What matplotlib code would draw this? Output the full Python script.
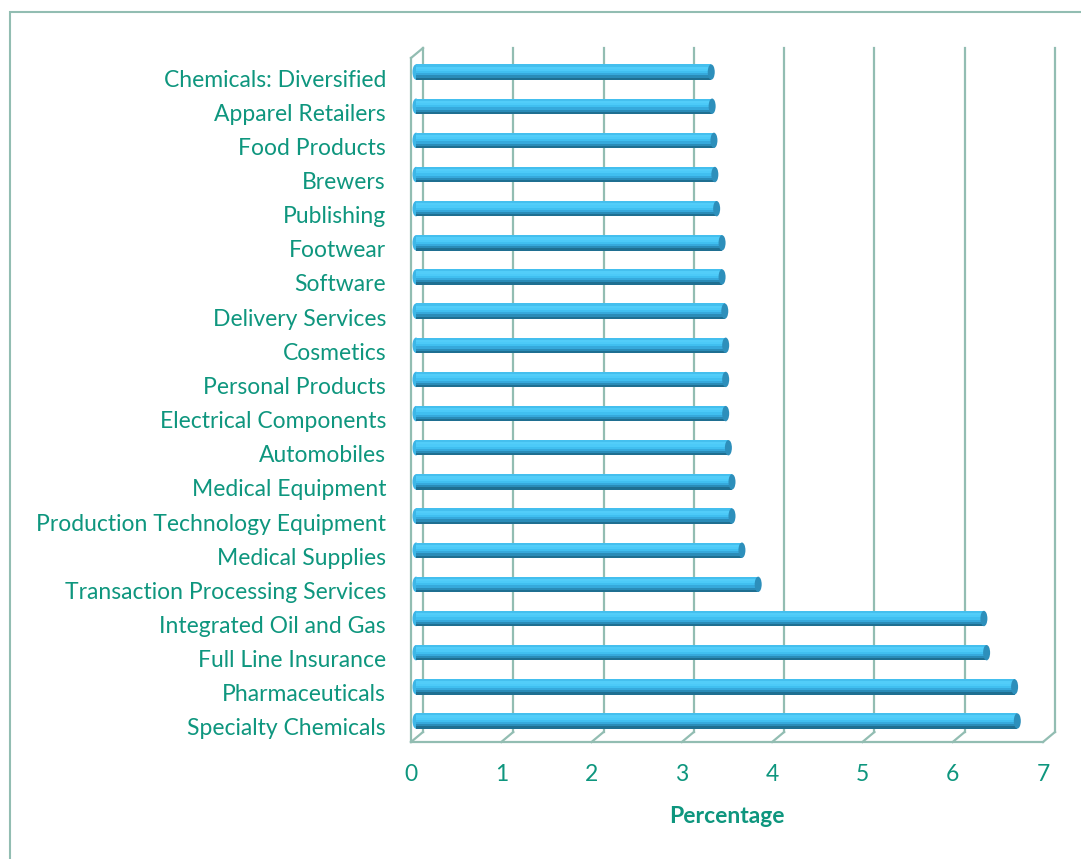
import matplotlib.pyplot as plt
import matplotlib.transforms as mtransforms
from matplotlib.patches import Ellipse, Rectangle

# --- Data (bottom to top) ---
sectors = [
    "Specialty Chemicals", "Pharmaceuticals", "Full Line Insurance",
    "Integrated Oil and Gas", "Transaction Processing Services", "Medical Supplies",
    "Production Technology Equipment", "Medical Equipment", "Automobiles",
    "Electrical Components", "Personal Products", "Cosmetics", "Delivery Services",
    "Software", "Footwear", "Publishing", "Brewers", "Food Products",
    "Apparel Retailers", "Chemicals: Diversified",
]
percentages = [
    6.66, 6.63, 6.32, 6.29, 3.79, 3.61, 3.50, 3.50, 3.46, 3.43,
    3.43, 3.43, 3.42, 3.39, 3.39, 3.33, 3.31, 3.30, 3.28, 3.27,
]
x_ticks = [0, 1, 2, 3, 4, 5, 6, 7]

TEXT = "#0e967e"
GRID = "#92bdb2"
FONT = "Lato"

W, H = 1081, 859
fig = plt.figure(figsize=(W / 100, H / 100), dpi=100)

# outer border (right and bottom run off the picture)
fig.add_artist(Rectangle((10 / W, -0.05), 1.2, 1 - 12 / H + 0.05,
                         transform=fig.transFigure, fill=False,
                         edgecolor=GRID, linewidth=1.5))

ax = fig.add_axes([411 / W, 1 - 742 / H, (1043 - 411) / W, (742 - 48) / H])
ax.set_xlim(0, 7)
ax.set_ylim(-0.44, 19.88)
for s in ax.spines.values():
    s.set_visible(False)

bar_tr = mtransforms.offset_copy(ax.transData, fig=fig, x=5, y=6, units="dots")
inv = ax.transData.inverted()


def shifted(x, y, dx, dy):
    # data point moved by (dx, dy) pixels, back in data units
    return inv.transform(ax.transData.transform((x, y)) + [dx, dy])


y0, y1 = ax.get_ylim()
line_kw = dict(color=GRID, lw=1.6, clip_on=False, zorder=1)
# back wall gridlines and floor slants
for k in x_ticks:
    fb = shifted(k, y0, 12, 10)
    tb = shifted(k, y1, 12, 0)
    ax.plot([fb[0], tb[0]], [fb[1], tb[1]], **line_kw)
    ax.plot([k, fb[0]], [y0, fb[1]], **line_kw)
# front floor edge and left wall
ax.plot([0, 7], [y0, y0], **line_kw)
top_front = shifted(0, y1, 0, -10)
top_back = shifted(0, y1, 12, 0)
ax.plot([0, 0], [y0, top_front[1]], **line_kw)
ax.plot([0, top_back[0]], [top_front[1], top_back[1]], **line_kw)

# cylinder bars (gradient strips)
bar_h = 0.45
shades = ["#1f6f91", "#2a8cb8", "#36a9dc", "#40bff0", "#4ccaf8", "#52cdf9", "#44bfee"]
n = len(shades)
ys = list(range(len(sectors)))
for j, c in enumerate(shades):
    ax.barh([y - bar_h / 2 + j * bar_h / n for y in ys], percentages,
            height=bar_h / n, align="edge", color=c, linewidth=0,
            transform=bar_tr, zorder=3)
cap_w = 7 / (1043 - 411) * 7
for y, v in zip(ys, percentages):
    ax.add_patch(Ellipse((v, y), cap_w, bar_h, transform=bar_tr,
                         facecolor="#2d8fbb", edgecolor="none", zorder=4))
    ax.add_patch(Ellipse((0, y), cap_w, bar_h, transform=bar_tr,
                         facecolor="#3db6e6", edgecolor="none", zorder=2))

ax.set_yticks(ys)
ax.set_yticklabels(sectors, fontsize=16.5, color=TEXT, family=FONT)
ax.set_xticks(x_ticks)
ax.set_xticklabels([str(t) for t in x_ticks], fontsize=16.5, color=TEXT, family=FONT)
ax.tick_params(axis="y", length=0, pad=18)
ax.tick_params(axis="x", length=0, pad=16)
ax.set_xlabel("Percentage", fontsize=16.5, color=TEXT, family=FONT,
              fontweight="bold", labelpad=15)

fig.savefig("out.png", dpi=100)
